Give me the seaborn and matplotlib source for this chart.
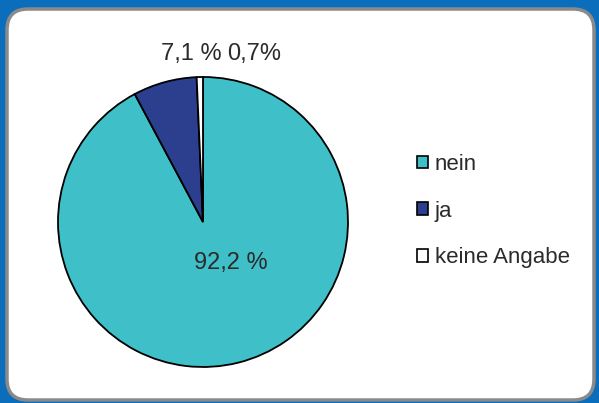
import matplotlib
matplotlib.use("Agg")
import matplotlib.pyplot as plt
from matplotlib.patches import FancyBboxPatch, Patch
import seaborn as sns

# --- data ---
categories = ["nein", "ja", "keine Angabe"]
shares = [92.2, 7.1, 0.7]
share_labels = ["92,2 %", "7,1 %", "0,7%"]
colors = ["#3fc0c8", "#2b3f8e", "#ffffff"]

sns.set_theme(style="white")
plt.rcParams["font.family"] = ["Liberation Sans Narrow", "Liberation Sans", "DejaVu Sans"]

W, H = 599, 403
fig = plt.figure(figsize=(W / 100, H / 100), dpi=100)
fig.patch.set_facecolor("#0a6ebd")

# rounded white panel with grey rim (behind everything)
panel = FancyBboxPatch((7 / W, 3 / H), 587 / W, 391 / H,
                       boxstyle="round,pad=0,rounding_size=0.035",
                       transform=fig.transFigure, facecolor="white",
                       edgecolor="#8a8a8a", linewidth=2.5,
                       mutation_aspect=W / H, zorder=-10)
fig.patches.append(panel)

# pie axes, 290px square centred at (203, 222) from top-left
r = 145
cx, cy = 203, H - 222
ax = fig.add_axes([(cx - r) / W, (cy - r) / H, 2 * r / W, 2 * r / H])
ax.set_facecolor("none")
ax.set_zorder(1)
wedges, _ = ax.pie(shares, colors=colors, startangle=90, counterclock=False,
                   wedgeprops=dict(edgecolor="black", linewidth=1.3))
ax.set_xlim(-1, 1)
ax.set_ylim(-1, 1)
ax.axis("off")

txt = dict(color="#2b2b2b", fontsize=17, ha="center", va="center")
ax.text(0.19, -0.28, share_labels[0], **txt)
ax.text(-0.08, 1.16, share_labels[1], **txt)
ax.text(0.35, 1.16, share_labels[2], **txt)

handles = [Patch(facecolor=c, edgecolor="black", linewidth=1.2) for c in colors]
leg = fig.legend(handles, categories, loc="upper left",
                 bbox_to_anchor=(397 / W, 1 - 134 / H), frameon=False,
                 fontsize=16, handlelength=0.5, handleheight=0.5,
                 handletextpad=0.3, labelspacing=1.15, labelcolor="#2b2b2b")
leg.set_zorder(2)

fig.savefig("out.png", dpi=100, facecolor=fig.get_facecolor())
